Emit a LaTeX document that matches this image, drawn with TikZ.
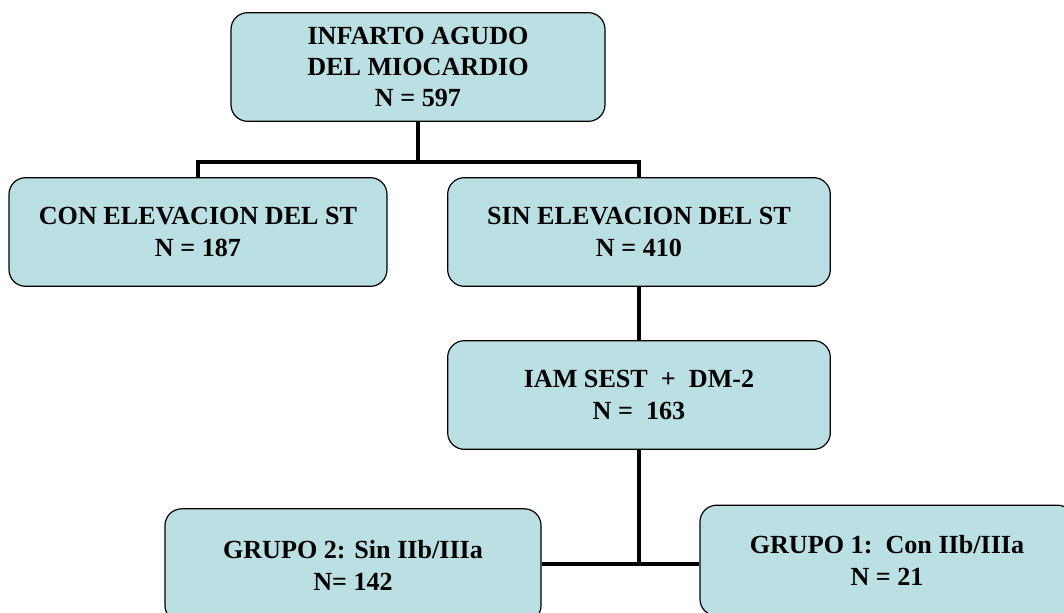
\documentclass[tikz,border=0pt]{standalone}
\usepackage{fontspec}
\setmainfont{Liberation Serif}
\definecolor{cajaazul}{RGB}{186,224,228}
\begin{document}
\begin{tikzpicture}[x=0.75pt, y=-0.75pt,
    caja/.style={draw=black, line width=0.9pt, fill=cajaazul, rounded corners=12.5pt,
      minimum height=81.5pt, align=center, inner sep=0pt,
      font=\fontsize{19.6}{23.6}\selectfont\bfseries},
    linea/.style={line width=3pt}]
    \useasboundingbox (0,0) rectangle (1064,613);
    \clip (0,0) rectangle (1064,613);
    \node[caja, minimum width=280.5pt] (infarto) at (418,67) {INFARTO AGUDO\\DEL MIOCARDIO\\N = 597};
    \node[caja, minimum width=283.5pt] (const) at (198,232) {CON ELEVACION DEL ST\\N = 187};
    \node[caja, minimum width=287pt] (sinst) at (639,232) {SIN ELEVACION DEL ST\\N = 410};
    \node[caja, minimum width=287pt] (sest) at (639,395) {IAM SEST\ \ +\ \ DM-2\\N =\ \ 163};
    \node[caja, minimum width=282pt, minimum height=85pt] (grupo2) at (353,565.5) {GRUPO 2: Sin IIb/IIIa\\N= 142};
    \node[caja, minimum width=280.5pt, minimum height=83pt] (grupo1) at (887,560.5) {GRUPO 1:\ \ Con IIb/IIIa\\N = 21};
    \coordinate (rama) at (418,162);
    \coordinate (union) at (639,564);
    \draw[linea] (infarto.south) -- (rama);
    \draw[linea] (const.north) |- (rama) -| (sinst.north);
    \draw[linea] (sinst.south) -- (sest.north);
    \draw[linea] (sest.south) -- (union);
    \draw[linea] (grupo2.east |- union) -- (grupo1.west |- union);
\end{tikzpicture}
\end{document}
